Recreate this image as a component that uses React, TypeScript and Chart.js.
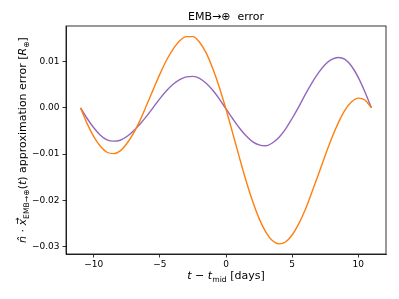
import React, { useEffect, useRef } from "react";
import { Chart, registerables } from "chart.js";

Chart.register(...registerables);

// ---- data ----
const days = [
  -11, -10.5, -10, -9.5, -9, -8.5, -8, -7.5, -7, -6.5, -6, -5.5, -5, -4.5, -4, -3.5, -3, -2.5, -2, -1.5, -1, -0.5,
  0, 0.5, 1, 1.5, 2, 2.5, 3, 3.5, 4, 4.5, 5, 5.5, 6, 6.5, 7, 7.5, 8, 8.5, 9, 9.5, 10, 10.5, 11,
];

const orangeError = [
  0, -0.0034, -0.0062, -0.0083, -0.0096, -0.0099, -0.0093, -0.0077, -0.0055, -0.0027, 0.0006, 0.004, 0.0073, 0.0103,
  0.0127, 0.0145, 0.0154, 0.0154, 0.0142, 0.0119, 0.0085, 0.0044, -0.0003, -0.0054, -0.0106, -0.0156, -0.0201,
  -0.0239, -0.0268, -0.0287, -0.0294, -0.029, -0.0275, -0.0251, -0.022, -0.0182, -0.0143, -0.0103, -0.0065, -0.0032,
  -0.0005, 0.0013, 0.0021, 0.0017, 0,
];

const purpleError = [
  0, -0.0023, -0.0043, -0.0059, -0.0069, -0.0072, -0.007, -0.0062, -0.005, -0.0035, -0.0018, 0.0001, 0.002, 0.0037,
  0.0051, 0.0061, 0.0067, 0.0068, 0.0064, 0.0053, 0.0038, 0.0019, -0.0002, -0.0023, -0.0043, -0.006, -0.0073, -0.008,
  -0.0082, -0.0076, -0.0064, -0.0046, -0.0023, 0.0002, 0.0029, 0.0054, 0.0076, 0.0094, 0.0105, 0.0109, 0.0105, 0.009,
  0.0066, 0.0035, 0,
];

const xTickValues = [-10, -5, 0, 5, 10];
const xTickLabels = ["\u221210", "\u22125", "0", "5", "10"];
const yTickValues = [0.01, 0, -0.01, -0.02, -0.03];
const yTickLabels = ["0.01", "0.00", "\u22120.01", "\u22120.02", "\u22120.03"];

const titleText = "EMB\u2192\u2295  error";

const FONT = '"DejaVu Sans", sans-serif';

type Run = { text: string; size: number; italic?: boolean; dy?: number; vec?: boolean };

const titleRuns: Run[] = [{ text: titleText, size: 11 }];
const xLabelRuns: Run[] = [
  { text: "t", size: 11, italic: true },
  { text: " \u2212 ", size: 11 },
  { text: "t", size: 11, italic: true },
  { text: "mid", size: 7.7, dy: 2.5 },
  { text: " [days]", size: 11 },
];
const yLabelRuns: Run[] = [
  { text: "n\u0302", size: 11, italic: true },
  { text: " \u00b7 ", size: 11 },
  { text: "x", size: 11, italic: true, vec: true },
  { text: "EMB\u2192\u2295", size: 7.7, dy: 2.5 },
  { text: "(", size: 11 },
  { text: "t", size: 11, italic: true },
  { text: ") approximation error [", size: 11 },
  { text: "R", size: 11, italic: true },
  { text: "\u2295", size: 7.7, dy: 2.5 },
  { text: "]", size: 11 },
];

function runFont(r: Run) {
  return `${r.italic ? "italic " : ""}${r.size}px ${FONT}`;
}

function drawRuns(ctx: CanvasRenderingContext2D, runs: Run[], cx: number, baseline: number) {
  let total = 0;
  for (const r of runs) {
    ctx.font = runFont(r);
    total += ctx.measureText(r.text).width;
  }
  let x = cx - total / 2;
  ctx.textAlign = "left";
  ctx.textBaseline = "alphabetic";
  ctx.fillStyle = "#000";
  for (const r of runs) {
    ctx.font = runFont(r);
    const w = ctx.measureText(r.text).width;
    ctx.fillText(r.text, x, baseline + (r.dy || 0));
    if (r.vec) {
      const y = baseline - 8.5;
      ctx.save();
      ctx.strokeStyle = "#000";
      ctx.lineWidth = 0.8;
      ctx.beginPath();
      ctx.moveTo(x + 1.5, y);
      ctx.lineTo(x + w + 1, y);
      ctx.moveTo(x + w - 1, y - 1.6);
      ctx.lineTo(x + w + 1, y);
      ctx.lineTo(x + w - 1, y + 1.6);
      ctx.stroke();
      ctx.restore();
    }
    x += w;
  }
}

const textPlugin = {
  id: "textPlugin",
  afterDraw(chart: any) {
    const ctx: CanvasRenderingContext2D = chart.ctx;
    const a = chart.chartArea;
    const cx = (a.left + a.right) / 2;
    const cy = (a.top + a.bottom) / 2;
    ctx.save();
    // frame
    ctx.strokeStyle = "#000";
    ctx.lineWidth = 0.8;
    ctx.strokeRect(a.left, a.top, a.right - a.left, a.bottom - a.top);
    drawRuns(ctx, titleRuns, cx, 19.5);
    drawRuns(ctx, xLabelRuns, cx, 279);
    ctx.translate(26, cy);
    ctx.rotate(-Math.PI / 2);
    drawRuns(ctx, yLabelRuns, 0, 0);
    ctx.restore();
  },
};

export default function App() {
  const ref = useRef<HTMLCanvasElement | null>(null);

  useEffect(() => {
    if (!ref.current) return;
    const chart = new Chart(ref.current, {
      type: "line",
      data: {
        datasets: [
          {
            label: "orange",
            data: days.map((d, i) => ({ x: d, y: orangeError[i] })),
            borderColor: "#ff7f0e",
            borderWidth: 1.4,
            pointRadius: 0,
            cubicInterpolationMode: "monotone",
            fill: false,
          },
          {
            label: "purple",
            data: days.map((d, i) => ({ x: d, y: purpleError[i] })),
            borderColor: "#9467bd",
            borderWidth: 1.4,
            pointRadius: 0,
            cubicInterpolationMode: "monotone",
            fill: false,
          },
        ],
      },
      options: {
        responsive: false,
        devicePixelRatio: 1,
        animation: false,
        layout: { padding: { top: 26, right: 13, left: 0, bottom: 0 } },
        plugins: { legend: { display: false }, title: { display: false }, tooltip: { enabled: false } },
        scales: {
          x: {
            type: "linear",
            min: -12.1,
            max: 12.1,
            afterBuildTicks: (s: any) => {
              s.ticks = xTickValues.map((v) => ({ value: v }));
            },
            afterFit: (s: any) => {
              s.height = 45;
            },
            ticks: {
              autoSkip: false,
              maxRotation: 0,
              padding: 2,
              color: "#000",
              font: { family: FONT, size: 9 },
              callback: (v: any) => {
                const i = xTickValues.indexOf(Number(v));
                return i >= 0 ? xTickLabels[i] : "";
              },
            },
            grid: { display: true, drawOnChartArea: false, drawTicks: true, tickLength: 3.5, color: "#000", lineWidth: 0.8 },
            border: { display: true, color: "#000", width: 0.8 },
          },
          y: {
            type: "linear",
            min: -0.0316,
            max: 0.0177,
            afterBuildTicks: (s: any) => {
              s.ticks = yTickValues.map((v) => ({ value: v }));
            },
            afterFit: (s: any) => {
              s.width = 66;
            },
            ticks: {
              autoSkip: false,
              padding: 3,
              color: "#000",
              font: { family: FONT, size: 9 },
              callback: (v: any) => {
                const i = yTickValues.findIndex((t) => Math.abs(t - Number(v)) < 1e-9);
                return i >= 0 ? yTickLabels[i] : "";
              },
            },
            grid: { display: true, drawOnChartArea: false, drawTicks: true, tickLength: 3.5, color: "#000", lineWidth: 0.8 },
            border: { display: true, color: "#000", width: 0.8 },
          },
        },
      },
      plugins: [textPlugin],
    } as any);
    return () => chart.destroy();
  }, []);

  return (
    <div style={{ position: "fixed", left: 0, top: 0, width: 399, height: 299, background: "#fff" }}>
      <canvas ref={ref} width={399} height={299} style={{ display: "block" }} />
    </div>
  );
}
